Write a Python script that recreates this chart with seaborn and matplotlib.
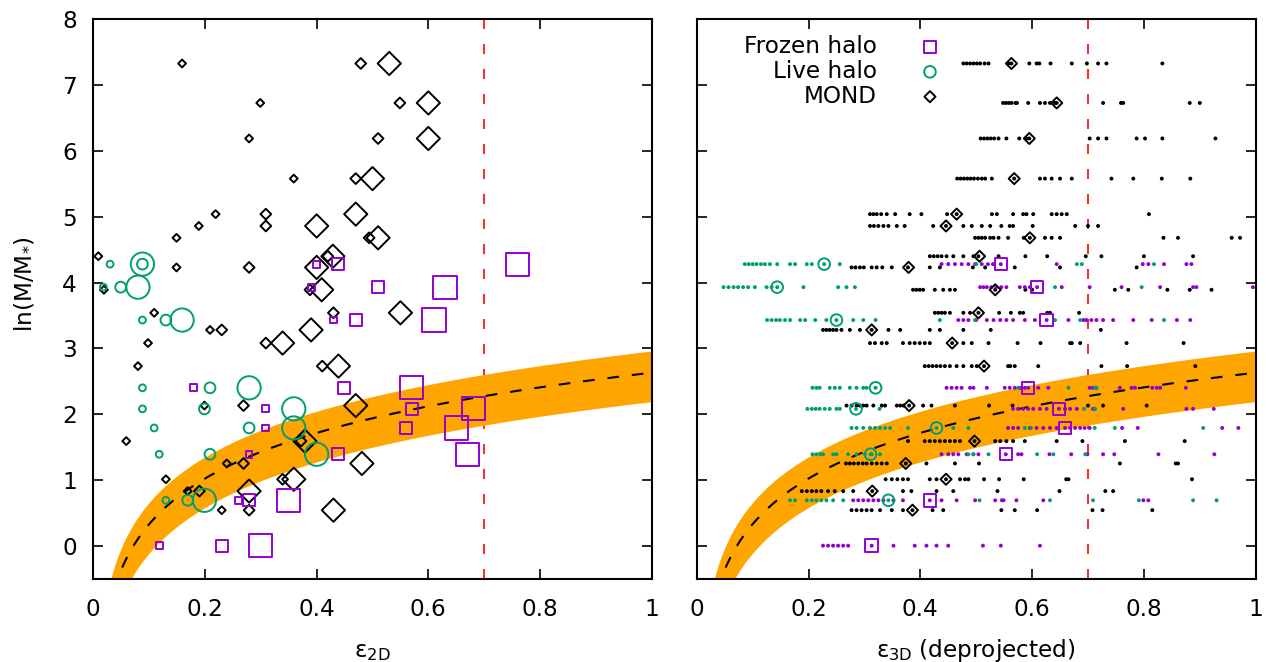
import numpy as np
import pandas as pd
import matplotlib
matplotlib.use("Agg")
import matplotlib.pyplot as plt
import seaborn as sns

# ---------------- data ----------------
# MOND models: ln(M/M*) level, 2D ellipticity of three projections,
# deprojected (3D) ellipticity marker and its sample distribution
mond_lnM = [7.33, 6.73, 6.19, 5.58, 5.04, 4.86, 4.68, 4.40, 4.23, 3.89,
            3.54, 3.28, 3.08, 2.73, 2.13, 1.59, 1.25, 1.01, 0.83, 0.54]
mond_e2d = [[0.159, 0.479, 0.530], [0.299, 0.549, 0.600], [0.279, 0.510, 0.600],
            [0.359, 0.470, 0.500], [0.219, 0.309, 0.470], [0.189, 0.309, 0.400],
            [0.149, 0.494, 0.510], [0.009, 0.420, 0.429], [0.149, 0.279, 0.400],
            [0.019, 0.388, 0.409], [0.109, 0.430, 0.550], [0.209, 0.230, 0.390],
            [0.098, 0.309, 0.339], [0.080, 0.410, 0.439], [0.199, 0.269, 0.470],
            [0.059, 0.372, 0.379], [0.239, 0.269, 0.481], [0.130, 0.339, 0.359],
            [0.169, 0.190, 0.279], [0.230, 0.279, 0.430]]
mond_e3d = [0.563, 0.644, 0.595, 0.568, 0.465, 0.446, 0.596, 0.506, 0.379, 0.534,
            0.504, 0.313, 0.457, 0.514, 0.380, 0.497, 0.374, 0.446, 0.314, 0.386]
mond_e3d_samples = [
    [0.477, 0.483, 0.489, 0.495, 0.501, 0.507, 0.515, 0.522, 0.558, 0.563, 0.595, 0.608, 0.613, 0.633, 0.671, 0.698, 0.718, 0.733, 0.833],
    [0.548, 0.553, 0.558, 0.563, 0.570, 0.573, 0.593, 0.614, 0.623, 0.632, 0.641, 0.644, 0.727, 0.759, 0.763, 0.882, 0.900],
    [0.508, 0.514, 0.520, 0.526, 0.532, 0.540, 0.554, 0.577, 0.590, 0.595, 0.703, 0.718, 0.733, 0.787, 0.802, 0.833, 0.928],
    [0.466, 0.472, 0.478, 0.484, 0.490, 0.496, 0.503, 0.510, 0.516, 0.528, 0.568, 0.614, 0.623, 0.635, 0.650, 0.671, 0.742, 0.781, 0.832, 0.883],
    [0.310, 0.316, 0.322, 0.330, 0.340, 0.355, 0.381, 0.402, 0.448, 0.465, 0.528, 0.537, 0.566, 0.584, 0.590, 0.602, 0.635, 0.644, 0.653, 0.662, 0.809],
    [0.310, 0.317, 0.325, 0.334, 0.343, 0.358, 0.372, 0.423, 0.446, 0.477, 0.492, 0.510, 0.525, 0.545, 0.560, 0.566, 0.601, 0.677, 0.700, 0.718],
    [0.498, 0.504, 0.510, 0.516, 0.525, 0.531, 0.540, 0.557, 0.585, 0.596, 0.623, 0.635, 0.650, 0.835, 0.861, 0.957, 0.972],
    [0.417, 0.424, 0.431, 0.438, 0.447, 0.459, 0.477, 0.495, 0.504, 0.540, 0.588, 0.627, 0.696, 0.724, 0.800, 0.888],
    [0.277, 0.284, 0.292, 0.299, 0.313, 0.322, 0.332, 0.349, 0.378, 0.417, 0.435, 0.494, 0.516, 0.569, 0.650, 0.787],
    [0.387, 0.393, 0.399, 0.405, 0.426, 0.441, 0.453, 0.462, 0.534, 0.588, 0.600, 0.748, 0.772, 0.842, 0.882, 0.921],
    [0.426, 0.432, 0.438, 0.444, 0.453, 0.477, 0.489, 0.504, 0.541, 0.562, 0.578, 0.584, 0.627, 0.632, 0.684],
    [0.226, 0.232, 0.238, 0.244, 0.250, 0.259, 0.274, 0.292, 0.313, 0.343, 0.364, 0.417, 0.435, 0.477, 0.526, 0.723],
    [0.310, 0.319, 0.331, 0.340, 0.369, 0.381, 0.390, 0.399, 0.408, 0.417, 0.457, 0.477, 0.492, 0.522, 0.574, 0.615, 0.668, 0.671, 0.686, 0.769, 0.871],
    [0.408, 0.415, 0.422, 0.429, 0.436, 0.444, 0.453, 0.465, 0.477, 0.492, 0.501, 0.514, 0.557, 0.561, 0.569, 0.611, 0.724, 0.770, 0.892],
    [0.268, 0.277, 0.286, 0.292, 0.298, 0.304, 0.316, 0.331, 0.337, 0.358, 0.364, 0.370, 0.380, 0.405, 0.420, 0.462, 0.523, 0.565, 0.700, 0.727, 0.805],
    [0.378, 0.408, 0.417, 0.426, 0.435, 0.444, 0.453, 0.462, 0.471, 0.497, 0.534, 0.543, 0.554, 0.566, 0.587, 0.644, 0.690, 0.766, 0.873],
    [0.267, 0.274, 0.281, 0.289, 0.297, 0.304, 0.313, 0.322, 0.331, 0.340, 0.374, 0.411, 0.462, 0.505, 0.757, 0.857, 0.861],
    [0.338, 0.349, 0.359, 0.369, 0.378, 0.417, 0.429, 0.446, 0.471, 0.480, 0.486, 0.514, 0.541, 0.585, 0.661, 0.665, 0.886],
    [0.188, 0.197, 0.206, 0.214, 0.223, 0.235, 0.247, 0.262, 0.280, 0.314, 0.369, 0.384, 0.429, 0.459, 0.538, 0.649, 0.731, 0.745],
    [0.277, 0.286, 0.295, 0.304, 0.313, 0.328, 0.349, 0.369, 0.386, 0.422, 0.441, 0.545, 0.569, 0.609, 0.708, 0.726, 0.815],
]

# Live halo models
live_lnM = [4.28, 3.93, 3.43, 2.40, 2.08, 1.79, 1.39, 0.69]
live_e2d = [[0.030, 0.088, 0.088], [0.018, 0.049, 0.080], [0.088, 0.130, 0.159],
            [0.088, 0.209, 0.279], [0.088, 0.199, 0.359], [0.109, 0.279, 0.359],
            [0.118, 0.209, 0.400], [0.130, 0.169, 0.199]]
live_e3d = [0.228, 0.144, 0.250, 0.320, 0.285, 0.429, 0.311, 0.343]
live_e3d_samples = [
    [0.086, 0.093, 0.100, 0.107, 0.115, 0.122, 0.131, 0.144, 0.167, 0.176, 0.197, 0.206, 0.228, 0.256, 0.500, 0.680, 0.689, 0.818],
    [0.048, 0.057, 0.066, 0.074, 0.083, 0.092, 0.104, 0.125, 0.134, 0.144, 0.191, 0.253, 0.268, 0.283, 0.641, 0.796],
    [0.126, 0.134, 0.142, 0.149, 0.158, 0.167, 0.185, 0.194, 0.212, 0.232, 0.250, 0.280, 0.298, 0.320, 0.435, 0.498, 0.641, 0.686, 0.836],
    [0.207, 0.214, 0.220, 0.238, 0.247, 0.256, 0.274, 0.286, 0.298, 0.304, 0.320, 0.575, 0.665, 0.712, 0.715],
    [0.198, 0.206, 0.213, 0.220, 0.229, 0.238, 0.250, 0.256, 0.285, 0.327, 0.693, 0.712],
    [0.277, 0.286, 0.298, 0.310, 0.319, 0.328, 0.337, 0.346, 0.378, 0.429, 0.459, 0.486, 0.587, 0.598, 0.712, 0.748, 0.906],
    [0.207, 0.214, 0.221, 0.226, 0.244, 0.250, 0.271, 0.286, 0.301, 0.311, 0.313, 0.328, 0.486, 0.495, 0.522, 0.609, 0.638, 0.695],
    [0.167, 0.176, 0.197, 0.206, 0.214, 0.223, 0.232, 0.244, 0.262, 0.343, 0.506, 0.632, 0.709, 0.791, 0.888, 0.930],
]

# Frozen halo models
frozen_lnM = [4.28, 3.93, 3.43, 2.40, 2.08, 1.79, 1.39, 0.69, 0.0]
frozen_e2d = [[0.400, 0.439, 0.760], [0.391, 0.510, 0.630], [0.430, 0.470, 0.610],
              [0.179, 0.449, 0.570], [0.309, 0.570, 0.681], [0.309, 0.560, 0.650],
              [0.279, 0.439, 0.670], [0.260, 0.279, 0.349], [0.118, 0.230, 0.299]]
frozen_e3d = [0.544, 0.609, 0.626, 0.593, 0.648, 0.659, 0.553, 0.417, 0.313]
frozen_e3d_samples = [
    [0.438, 0.450, 0.462, 0.474, 0.486, 0.498, 0.510, 0.521, 0.530, 0.544, 0.644, 0.798, 0.808, 0.836, 0.876, 0.885],
    [0.507, 0.513, 0.519, 0.527, 0.536, 0.545, 0.554, 0.578, 0.587, 0.596, 0.609, 0.653, 0.703, 0.760, 0.829, 0.888, 0.894, 0.995],
    [0.468, 0.477, 0.486, 0.500, 0.519, 0.531, 0.543, 0.554, 0.566, 0.587, 0.605, 0.626, 0.665, 0.692, 0.697, 0.706, 0.715, 0.727, 0.745, 0.781, 0.814, 0.859, 0.883],
    [0.447, 0.456, 0.465, 0.474, 0.489, 0.495, 0.519, 0.551, 0.560, 0.569, 0.578, 0.587, 0.593, 0.611, 0.629, 0.703, 0.709, 0.715, 0.757, 0.778, 0.784, 0.815, 0.823, 0.829, 0.875],
    [0.566, 0.575, 0.584, 0.593, 0.602, 0.614, 0.626, 0.648, 0.659, 0.668, 0.680, 0.709, 0.712, 0.763, 0.876, 0.888, 0.925],
    [0.557, 0.566, 0.575, 0.596, 0.608, 0.620, 0.632, 0.644, 0.659, 0.668, 0.677, 0.686, 0.694, 0.703, 0.761, 0.789, 0.940, 0.969],
    [0.438, 0.450, 0.459, 0.468, 0.483, 0.495, 0.504, 0.553, 0.575, 0.581, 0.631, 0.670, 0.699, 0.727, 0.747, 0.826, 0.926],
    [0.280, 0.289, 0.298, 0.307, 0.316, 0.325, 0.334, 0.352, 0.369, 0.417, 0.438, 0.465, 0.498, 0.534, 0.546, 0.549, 0.572, 0.620, 0.799, 0.808],
    [0.226, 0.235, 0.244, 0.253, 0.262, 0.271, 0.313, 0.352, 0.390, 0.411, 0.429, 0.450, 0.512, 0.544, 0.614],
]

# relation ln(M/M*) = ln(eps) + const, and its band
relation_offset = 2.63
band_low_offset = 2.19
band_high_offset = 2.96
eps_limit = 0.7

x_ticks = [0, 0.2, 0.4, 0.6, 0.8, 1]
x_tick_labels = ["0", "0.2", "0.4", "0.6", "0.8", "1"]
y_ticks = [0, 1, 2, 3, 4, 5, 6, 7, 8]

# ---------------- style ----------------
C_FROZEN = "#9400D3"
C_LIVE = "#009E73"
C_MOND = "#000000"
C_BAND = "#FFA500"
FS = 16.7

sns.set_theme(style="white")
plt.rcParams["font.family"] = ["DejaVu Sans"]
plt.rcParams["mathtext.fontset"] = "dejavusans"
plt.rcParams["axes.edgecolor"] = "black"
plt.rcParams["axes.labelcolor"] = "black"
plt.rcParams["xtick.color"] = "black"
plt.rcParams["ytick.color"] = "black"
plt.rcParams["xtick.labelcolor"] = "black"
plt.rcParams["ytick.labelcolor"] = "black"
plt.rcParams["text.color"] = "black"

W, H = 1266, 662
fig = plt.figure(figsize=(W / 100, H / 100), dpi=100)
fig.patch.set_facecolor("white")
axL = fig.add_axes([93.3 / W, (H - 578.6) / H, 558.4 / W, 559.2 / H])
axR = fig.add_axes([696.7 / W, (H - 578.6) / H, 559.0 / W, 559.2 / H])


def proj_frame(lnM, e2d):
    rows = []
    for y, xs in zip(lnM, e2d):
        for k, x in enumerate(xs):
            rows.append((x, y, k))
    return pd.DataFrame(rows, columns=["eps", "lnM", "proj"])


def sample_frame(lnM, samples, kind):
    rows = []
    for y, xs in zip(lnM, samples):
        for x in xs:
            rows.append((x, y, kind))
    return pd.DataFrame(rows, columns=["eps", "lnM", "kind"])


for ax in (axL, axR):
    xs = np.linspace(0.004, 1.0, 500)
    ax.fill_between(xs, np.log(xs) + band_low_offset, np.log(xs) + band_high_offset,
                    color=C_BAND, lw=0, zorder=1)
    ax.plot(xs, np.log(xs) + relation_offset, color="black", lw=1.5,
            ls=(0, (5.6, 6.2)), zorder=2)
    ax.plot([eps_limit, eps_limit], [8, -0.5], color="red", lw=1.2,
            ls=(0, (6, 9)), zorder=0.5)

# ---- left panel: projected ellipticities ----
lw_mark = 1.4
sns.scatterplot(data=proj_frame(mond_lnM, mond_e2d), x="eps", y="lnM", size="proj",
                sizes={0: 16, 1: 30, 2: 140}, marker="D", facecolor="none",
                edgecolor=C_MOND, linewidth=lw_mark, legend=False, ax=axL, zorder=4)
sns.scatterplot(data=proj_frame(live_lnM, live_e2d), x="eps", y="lnM", size="proj",
                sizes={0: 24, 1: 60, 2: 280}, marker="o", facecolor="none",
                edgecolor=C_LIVE, linewidth=lw_mark, legend=False, ax=axL, zorder=4)
sns.scatterplot(data=proj_frame(frozen_lnM, frozen_e2d), x="eps", y="lnM", size="proj",
                sizes={0: 24, 1: 75, 2: 280}, marker="s", facecolor="none",
                edgecolor=C_FROZEN, linewidth=lw_mark, legend=False, ax=axL, zorder=4)

# ---- right panel: deprojected ellipticities ----
dots = pd.concat([
    sample_frame(mond_lnM, mond_e3d_samples, "MOND"),
    sample_frame(frozen_lnM, frozen_e3d_samples, "Frozen halo"),
    sample_frame(live_lnM, live_e3d_samples, "Live halo"),
], ignore_index=True)
sns.scatterplot(data=dots, x="eps", y="lnM", hue="kind",
                palette={"MOND": C_MOND, "Frozen halo": C_FROZEN, "Live halo": C_LIVE},
                s=8, linewidth=0, legend=False, ax=axR, zorder=3)

sns.scatterplot(x=frozen_e3d, y=frozen_lnM, marker="s", s=80, facecolor="none",
                edgecolor=C_FROZEN, linewidth=lw_mark, label="Frozen halo",
                legend=False, ax=axR, zorder=5)
sns.scatterplot(x=live_e3d, y=live_lnM, marker="o", s=70, facecolor="none",
                edgecolor=C_LIVE, linewidth=lw_mark, label="Live halo",
                legend=False, ax=axR, zorder=5)
sns.scatterplot(x=mond_e3d, y=mond_lnM, marker="D", s=32, facecolor="none",
                edgecolor=C_MOND, linewidth=lw_mark, label="MOND",
                legend=False, ax=axR, zorder=5)

leg = axR.legend(loc="upper right", bbox_to_anchor=(0.438, 0.972), markerfirst=False,
                 frameon=False, fontsize=FS, handlelength=1.0, handletextpad=1.8,
                 labelspacing=0.08, borderpad=0, borderaxespad=0, scatterpoints=1)
for t in leg.get_texts():
    t.set_color("black")

# ---- axes cosmetics ----
for ax in (axL, axR):
    ax.set_xlim(0, 1)
    ax.set_ylim(-0.5, 8)
    ax.set_xticks(x_ticks)
    ax.set_xticklabels(x_tick_labels)
    ax.set_yticks(y_ticks)
    ax.set_yticklabels([str(t) for t in y_ticks])
    ax.tick_params(axis="both", which="major", direction="in", top=True, right=True,
                   left=True, bottom=True, length=7, width=1.2, labelsize=FS,
                   labelcolor="black")
    ax.tick_params(axis="x", pad=14)
    ax.tick_params(axis="y", pad=11.8)
    for sp in ax.spines.values():
        sp.set_linewidth(1.5)
        sp.set_color("black")
        sp.set_visible(True)
    ax.grid(False)
    ax.set_facecolor("white")

axR.tick_params(labelleft=False)

axL.set_xlabel("ε$_{\\mathrm{2D}}$", fontsize=FS, va="baseline", color="black")
axL.xaxis.set_label_coords(0.5, (578.6 - 657.3) / 559.2)
axR.set_xlabel("ε$_{\\mathrm{3D}}$ (deprojected)", fontsize=FS, va="baseline", color="black")
axR.xaxis.set_label_coords(0.5, (578.6 - 657.3) / 559.2)
axL.set_ylabel("ln(M/M$_{*}$)", fontsize=FS, va="center", ha="center", color="black")
axL.yaxis.set_label_coords((25 - 93.3) / 558.4, (578.6 - 284) / 559.2)
axR.set_ylabel("")

fig.savefig("out.png", dpi=100)
